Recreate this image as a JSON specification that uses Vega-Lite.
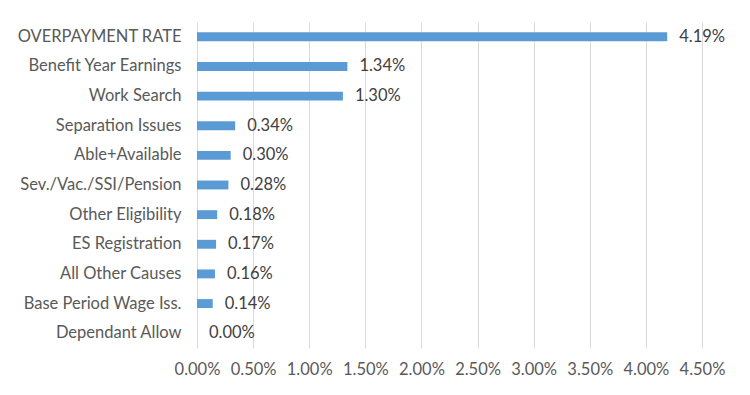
{
  "$schema": "https://vega.github.io/schema/vega-lite/v6.json",
  "autosize": "none",
  "width": 505,
  "height": 326,
  "padding": {"left": 197, "top": 22, "right": 48, "bottom": 47},
  "background": "white",
  "config": {"view": {"stroke": null}, "font": "Lato"},
  "data": {
    "values": [
      {"cause": "OVERPAYMENT RATE", "rate": 0.0419},
      {"cause": "Benefit Year Earnings", "rate": 0.0134},
      {"cause": "Work Search", "rate": 0.0130},
      {"cause": "Separation Issues", "rate": 0.0034},
      {"cause": "Able+Available", "rate": 0.0030},
      {"cause": "Sev./Vac./SSI/Pension", "rate": 0.0028},
      {"cause": "Other Eligibility", "rate": 0.0018},
      {"cause": "ES Registration", "rate": 0.0017},
      {"cause": "All Other Causes", "rate": 0.0016},
      {"cause": "Base Period Wage Iss.", "rate": 0.0014},
      {"cause": "Dependant Allow", "rate": 0.0000}
    ]
  },
  "encoding": {
    "y": {
      "field": "cause", "type": "nominal", "sort": null,
      "scale": {"paddingInner": 0.7, "paddingOuter": 0.35},
      "axis": {"title": null, "domain": false, "ticks": false, "labelPadding": 16,
               "labelFontSize": 16.5, "labelColor": "#595959", "labelFont": "Lato"}
    },
    "x": {
      "field": "rate", "type": "quantitative",
      "scale": {"domain": [0, 0.045], "nice": false},
      "axis": {"title": null, "format": ".2%", "values": [0, 0.005, 0.01, 0.015, 0.02, 0.025, 0.03, 0.035, 0.04, 0.045],
               "labelOverlap": false, "labelBound": false, "labelFlush": false,
               "domain": false, "ticks": false, "grid": true, "gridColor": "#d9d9d9", "gridWidth": 1,
               "labelPadding": 13, "labelFontSize": 16.5, "labelColor": "#595959", "labelFont": "Lato"}
    }
  },
  "layer": [
    {"mark": {"type": "bar", "color": "#5b9bd5"}},
    {"mark": {"type": "text", "align": "left", "baseline": "middle", "dx": 12, "fontSize": 16.5, "color": "#404040", "font": "Lato"},
     "encoding": {"text": {"field": "rate", "type": "quantitative", "format": ".2%"}}}
  ]
}
